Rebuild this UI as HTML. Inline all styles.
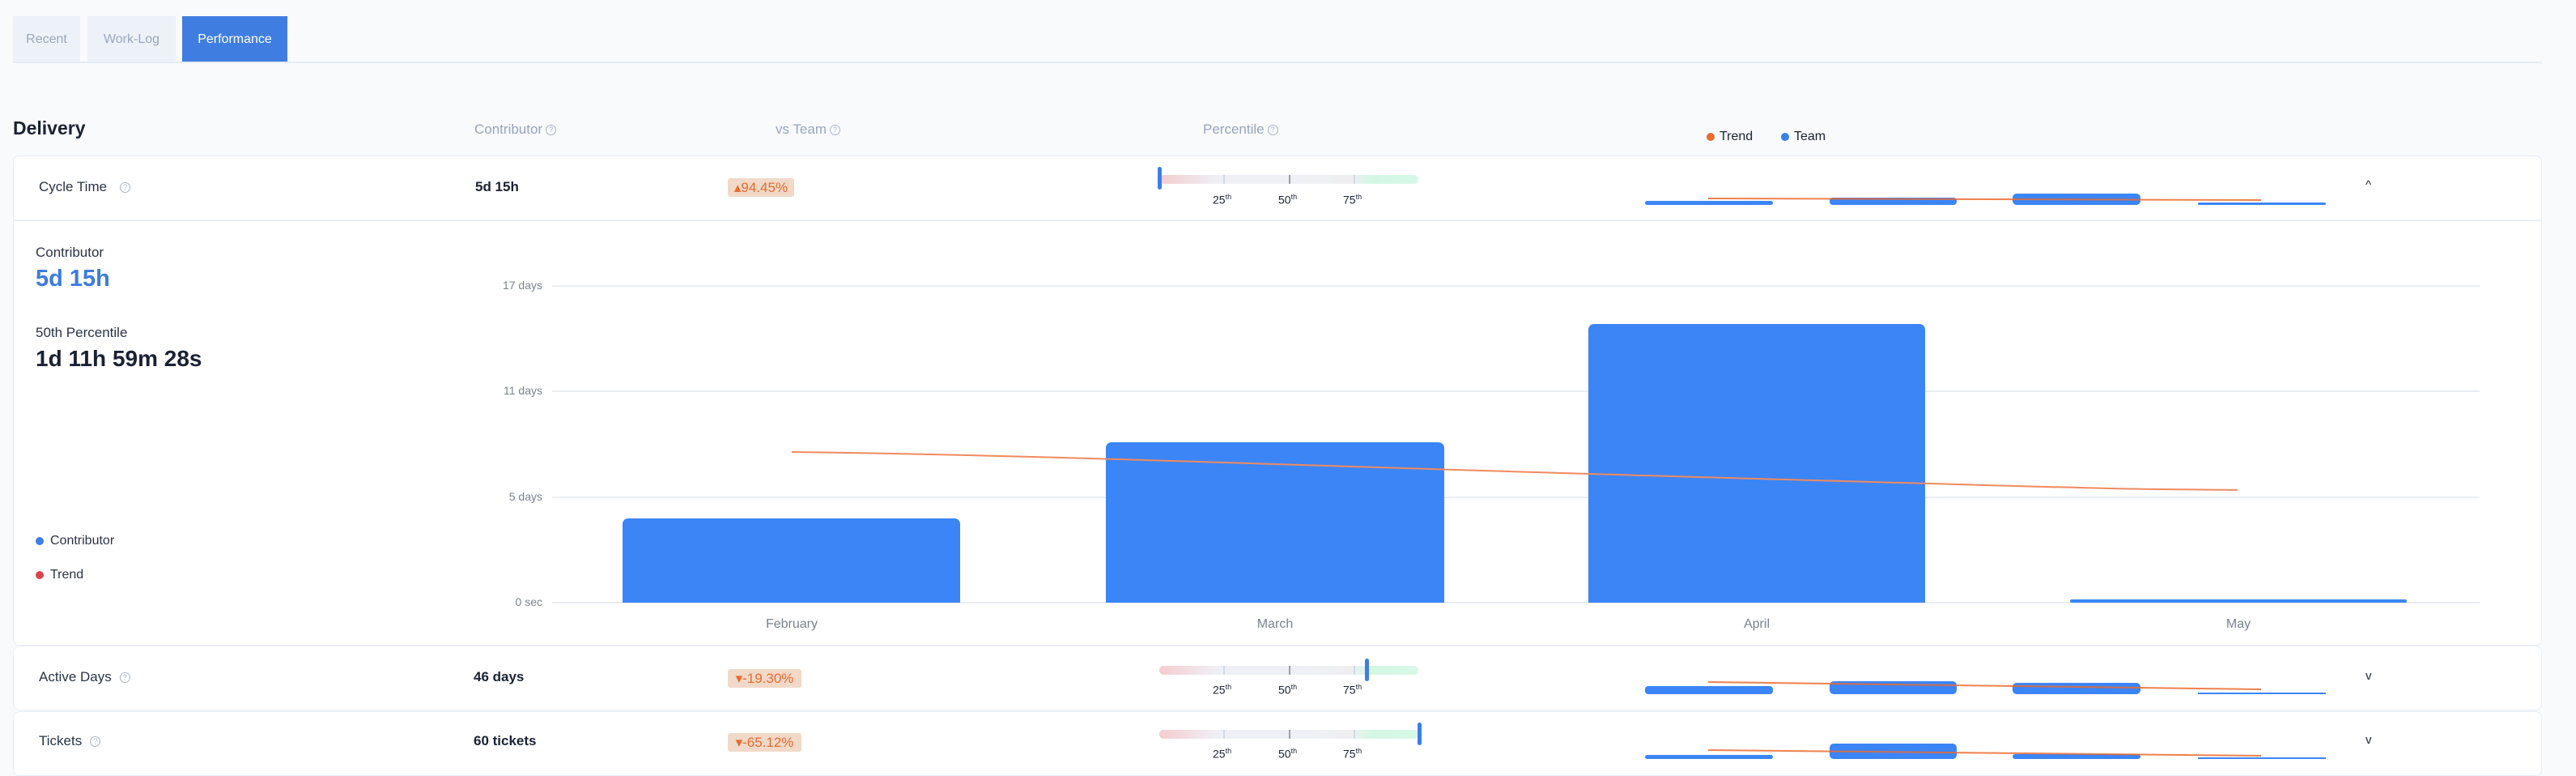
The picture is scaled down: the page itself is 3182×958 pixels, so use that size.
<!DOCTYPE html>
<html><head><meta charset="utf-8"><style>
*{margin:0;padding:0;box-sizing:border-box}
body{width:3182px;height:958px;background:#f8fafc;font-family:"Liberation Sans",sans-serif;position:relative;overflow:hidden;color:#1a2233}
.a{position:absolute;white-space:nowrap}
.tab{position:absolute;top:20px;height:57px;font-size:16px;display:flex;align-items:center;justify-content:center;background:#edf2f8;color:#9aa6bd}
.hdr{font-size:17px;color:#99a5bd;top:150px}
.q{display:inline-block;width:13px;height:13px;border:1.5px solid #aab4c8;border-radius:50%;font-size:9px;line-height:10px;text-align:center;color:#aab4c8;vertical-align:middle;margin-left:4px}
.card{position:absolute;left:16px;width:3124px;background:#fff;border:1.5px solid #e8eef6;border-radius:8px}
.lbl{font-size:17px;color:#2a3345}
.val{font-size:17px;font-weight:bold;color:#1a2233}
.badge{position:absolute;height:23px;background:#f1d9c8;color:#ea6a2e;font-size:17px;border-radius:3px;display:flex;align-items:center;justify-content:center}
.pbar{position:absolute;left:1432px;width:320px;height:11px;border-radius:6px;background:linear-gradient(90deg,#f5cccf 0%,#eef0f6 22%,#eef0f5 55%,#efeff0 74%,#d4f7e5 82%,#d7f8e8 100%)}
.tk{position:absolute;top:0;width:2px;height:11px}
.pl{position:absolute;font-size:14px;color:#1a2233}
.pl sup{font-size:9px}
.mk{position:absolute;width:5px;height:28px;background:#3c7ee8;border-radius:3px}
.ytl{position:absolute;font-size:14px;color:#7a8290;text-align:right;width:120px;left:550px}
.grid{position:absolute;left:682px;width:2381px;height:2px;background:#e9edf2}
.bar{position:absolute;background:#3b85f6;border-radius:7px 7px 0 0}
.xl{position:absolute;font-size:16px;color:#7a8290;width:200px;text-align:center}
.dot{display:inline-block;width:10px;height:10px;border-radius:50%;vertical-align:middle;margin-right:8px}
</style></head><body>
<div class="tab" style="left:16px;width:83px">Recent</div>
<div class="tab" style="left:108px;width:109px">Work-Log</div>
<div class="tab" style="left:225px;width:130px;background:#407de0;color:#fff">Performance</div>
<div class="a" style="left:16px;top:76px;width:3124px;height:2px;background:#e6ecf4"></div>

<div class="a" style="left:16px;top:145px;font-size:23px;font-weight:bold;color:#1a2233">Delivery</div>
<div class="a hdr" style="left:586px">Contributor<span class="q">?</span></div>
<div class="a hdr" style="left:958px">vs Team<span class="q">?</span></div>
<div class="a hdr" style="left:1486px">Percentile<span class="q">?</span></div>
<div class="a" style="left:2108px;top:160px;font-size:16px;color:#1a2233"><span class="dot" style="background:#ec6a2e;margin-right:6px"></span>Trend</div>
<div class="a" style="left:2200px;top:160px;font-size:16px;color:#1a2233"><span class="dot" style="background:#3c7ee8;margin-right:6px"></span>Team</div>

<!-- Cycle time card -->
<div class="card" style="top:192px;height:605px"></div>
<div class="a" style="left:16px;top:271px;width:3124px;height:2px;background:#e9eff7"></div>
<div class="a lbl" style="left:48px;top:221px">Cycle Time<span class="q" style="margin-left:16px">?</span></div>
<div class="a val" style="left:587px;top:221px">5d 15h</div>
<div class="badge" style="left:899px;top:220px;width:82px">▴94.45%</div>
<div class="a" style="left:0;top:216px">
 <div class="pbar" style="top:0"><div class="tk" style="left:79px;background:#d0d9e8"></div><div class="tk" style="left:160px;background:#9aa0a8"></div><div class="tk" style="left:240px;background:#d0d9e8"></div></div>
</div>
<div class="mk" style="left:1430px;top:206px"></div>
<div class="pl" style="left:1498px;top:238px">25<sup>th</sup></div>
<div class="pl" style="left:1579px;top:238px">50<sup>th</sup></div>
<div class="pl" style="left:1659px;top:238px">75<sup>th</sup></div>
<svg class="a" style="left:2000px;top:200px" width="900" height="60">
 <rect x="32" y="48" width="158" height="5" rx="2.5" fill="#3b85f6"/>
 <rect x="260" y="44" width="157" height="9" rx="4" fill="#3b85f6"/>
 <rect x="486" y="39" width="158" height="14" rx="5" fill="#3b85f6"/>
 <rect x="715" y="50" width="158" height="3" rx="1.5" fill="#3b85f6"/>
 <path d="M110 45 L793 47" stroke="#ec6a2e" stroke-width="2" fill="none" opacity=".85"/>
</svg>
<div class="a" style="left:2922px;top:220px;font-size:15px;color:#1a2233">^</div>

<div class="a" style="left:44px;top:302px;font-size:17px;color:#2a3345">Contributor</div>
<div class="a" style="left:44px;top:328px;font-size:29px;font-weight:bold;color:#3b7de0">5d 15h</div>
<div class="a" style="left:44px;top:401px;font-size:17px;color:#2a3345">50th Percentile</div>
<div class="a" style="left:44px;top:427px;font-size:28px;font-weight:bold;color:#1a2233">1d 11h 59m 28s</div>
<div class="a" style="left:44px;top:659px;font-size:16px;color:#2a3345"><span class="dot" style="background:#3c7ee8"></span>Contributor</div>
<div class="a" style="left:44px;top:701px;font-size:16px;color:#2a3345"><span class="dot" style="background:#d9434e"></span>Trend</div>

<div class="grid" style="top:352px"></div><div class="ytl" style="top:344px">17 days</div>
<div class="grid" style="top:482px"></div><div class="ytl" style="top:474px">11 days</div>
<div class="grid" style="top:613px"></div><div class="ytl" style="top:605px">5 days</div>
<div class="grid" style="top:743px"></div><div class="ytl" style="top:735px">0 sec</div>
<div class="bar" style="left:769px;top:640px;width:417px;height:104px"></div>
<div class="bar" style="left:1366px;top:546px;width:418px;height:198px"></div>
<div class="bar" style="left:1962px;top:400px;width:416px;height:344px"></div>
<div class="bar" style="left:2557px;top:740px;width:416px;height:4px;border-radius:2px"></div>
<svg class="a" style="left:0;top:0" width="3182" height="958"><path d="M978 558 C1300 562 1600 575 2169 591 S2600 603 2764 605" stroke="#f08a5e" stroke-width="2" fill="none"/></svg>
<div class="xl" style="left:878px;top:762px">February</div>
<div class="xl" style="left:1475px;top:762px">March</div>
<div class="xl" style="left:2070px;top:762px">April</div>
<div class="xl" style="left:2665px;top:762px">May</div>

<!-- Active days -->
<div class="card" style="top:797px;height:80px"></div>
<div class="a lbl" style="left:48px;top:826px">Active Days<span class="q" style="margin-left:10px">?</span></div>
<div class="a val" style="left:585px;top:826px">46 days</div>
<div class="badge" style="left:899px;top:826px;width:91px">▾-19.30%</div>
<div class="pbar" style="top:822px"><div class="tk" style="left:79px;background:#d0d9e8"></div><div class="tk" style="left:160px;background:#9aa0a8"></div><div class="tk" style="left:240px;background:#d0d9e8"></div></div>
<div class="mk" style="left:1686px;top:813px"></div>
<div class="pl" style="left:1498px;top:843px">25<sup>th</sup></div>
<div class="pl" style="left:1579px;top:843px">50<sup>th</sup></div>
<div class="pl" style="left:1659px;top:843px">75<sup>th</sup></div>
<svg class="a" style="left:2000px;top:800px" width="900" height="60">
 <rect x="32" y="47" width="158" height="10" rx="4" fill="#3b85f6"/>
 <rect x="260" y="41" width="157" height="16" rx="5" fill="#3b85f6"/>
 <rect x="486" y="43" width="158" height="14" rx="5" fill="#3b85f6"/>
 <rect x="715" y="55" width="158" height="2" fill="#3b85f6"/>
 <path d="M110 42 L793 51" stroke="#ec6a2e" stroke-width="2" fill="none" opacity=".85"/>
</svg>
<div class="a" style="left:2922px;top:826px;font-size:15px;color:#1a2233">v</div>

<!-- Tickets -->
<div class="card" style="top:878px;height:80px"></div>
<div class="a lbl" style="left:48px;top:905px">Tickets<span class="q" style="margin-left:10px">?</span></div>
<div class="a val" style="left:585px;top:905px">60 tickets</div>
<div class="badge" style="left:899px;top:905px;width:91px">▾-65.12%</div>
<div class="pbar" style="top:901px"><div class="tk" style="left:79px;background:#d0d9e8"></div><div class="tk" style="left:160px;background:#9aa0a8"></div><div class="tk" style="left:240px;background:#d0d9e8"></div></div>
<div class="mk" style="left:1751px;top:892px"></div>
<div class="pl" style="left:1498px;top:922px">25<sup>th</sup></div>
<div class="pl" style="left:1579px;top:922px">50<sup>th</sup></div>
<div class="pl" style="left:1659px;top:922px">75<sup>th</sup></div>
<svg class="a" style="left:2000px;top:880px" width="900" height="60">
 <rect x="32" y="52" width="158" height="5" rx="2.5" fill="#3b85f6"/>
 <rect x="260" y="38" width="157" height="19" rx="5" fill="#3b85f6"/>
 <rect x="486" y="51" width="158" height="6" rx="3" fill="#3b85f6"/>
 <rect x="715" y="55" width="158" height="2" fill="#3b85f6"/>
 <path d="M110 46 L793 53" stroke="#ec6a2e" stroke-width="2" fill="none" opacity=".85"/>
</svg>
<div class="a" style="left:2922px;top:905px;font-size:15px;color:#1a2233">v</div>
</body></html>
